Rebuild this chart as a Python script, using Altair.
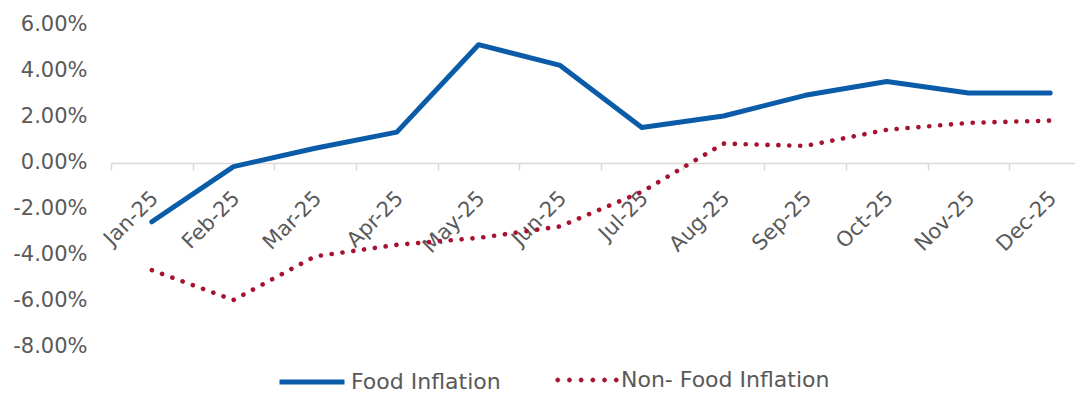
import altair as alt
import pandas as pd

months = ["Jan-25", "Feb-25", "Mar-25", "Apr-25", "May-25", "Jun-25",
          "Jul-25", "Aug-25", "Sep-25", "Oct-25", "Nov-25", "Dec-25"]
food = [-0.026, -0.002, 0.006, 0.013, 0.051, 0.042, 0.015, 0.020, 0.029, 0.035, 0.030, 0.030]
nonfood = [-0.047, -0.060, -0.041, -0.036, -0.033, -0.028, -0.013, 0.008, 0.007, 0.014, 0.017, 0.018]
series = ["Food Inflation", "Non- Food Inflation"]
colors = ["#0A5CA8", "#A6122F"]
y_ticks = [-0.08, -0.06, -0.04, -0.02, 0.0, 0.02, 0.04, 0.06]

rows = []
for m, v in zip(months, food):
    rows.append({"month": m, "series": series[0], "value": v})
for m, v in zip(months, nonfood):
    rows.append({"month": m, "series": series[1], "value": v})
df = pd.DataFrame(rows)

FONT = "DejaVu Sans"
TXT = "#595959"
GRID = "#d9d9d9"

# dotted legend symbol: six small filled circles, path in [-1, 1] symbol coordinates
r = 0.066
dots_path = " ".join(
    f"M{x - r:.3f},0 a{r},{r} 0 1,0 {2 * r:.3f},0 a{r},{r} 0 1,0 {-2 * r:.3f},0 Z"
    for x in [-0.9, -0.54, -0.18, 0.18, 0.54, 0.9]
)

base = alt.Chart(df).encode(
    x=alt.X("month:N", sort=months, title=None,
            scale=alt.Scale(paddingInner=0, paddingOuter=0, range=[0, 980]),
            axis=alt.Axis(labelAngle=-45, labelFontSize=21, labelColor=TXT, labelFont=FONT,
                          offset=-183, tickBand="extent", tickSize=7,
                          tickColor=GRID, tickWidth=1.5, domainColor=GRID, domainWidth=1.5,
                          labelPadding=17, labelOffset=-5, grid=False)),
    y=alt.Y("value:Q", title=None,
            scale=alt.Scale(domain=[-0.08, 0.06], nice=False, zero=False),
            axis=alt.Axis(values=y_ticks,
                          labelExpr="replace(format(datum.value, '.2%'), '\u2212', '-')",
                          labelFontSize=21, labelColor=TXT,
                          labelFont=FONT, domain=False, ticks=False,
                          grid=False, labelPadding=24)),
)

food_layer = base.transform_filter(alt.datum.series == series[0]).mark_line(
    strokeWidth=5, strokeCap="round", strokeJoin="round"
).encode(
    color=alt.Color("series:N", title=None,
                    scale=alt.Scale(domain=[series[0]], range=[colors[0]]),
                    legend=alt.Legend(orient="none", legendX=166, legendY=323,
                                      direction="horizontal", symbolType="stroke",
                                      symbolSize=4225, symbolStrokeWidth=5,
                                      labelFontSize=22, labelColor=TXT, labelFont=FONT,
                                      labelLimit=400, labelOffset=4))
)

nonfood_layer = base.transform_filter(alt.datum.series == series[1]).mark_line(
    strokeWidth=4.6, strokeCap="round", strokeJoin="round", strokeDash=[0.1, 10.8]
).encode(
    stroke=alt.Stroke("series:N", title=None,
                      scale=alt.Scale(domain=[series[1]], range=[colors[1]]),
                      legend=alt.Legend(orient="none", legendX=443, legendY=323,
                                        direction="horizontal", symbolType=dots_path,
                                        symbolSize=4225, symbolStrokeWidth=0.5,
                                        symbolFillColor=colors[1],
                                        symbolStrokeColor=colors[1],
                                        labelFontSize=22, labelColor=TXT, labelFont=FONT,
                                        labelLimit=400, labelOffset=1))
)

chart = alt.layer(food_layer, nonfood_layer).properties(
    width=964, height=322,
    autosize=alt.AutoSizeParams(type="none"),
    padding={"left": 103, "top": 16, "right": 0, "bottom": 47},
).configure_view(stroke=None)

chart.save("out.html", embed_options={"renderer": "svg", "actions": False})
